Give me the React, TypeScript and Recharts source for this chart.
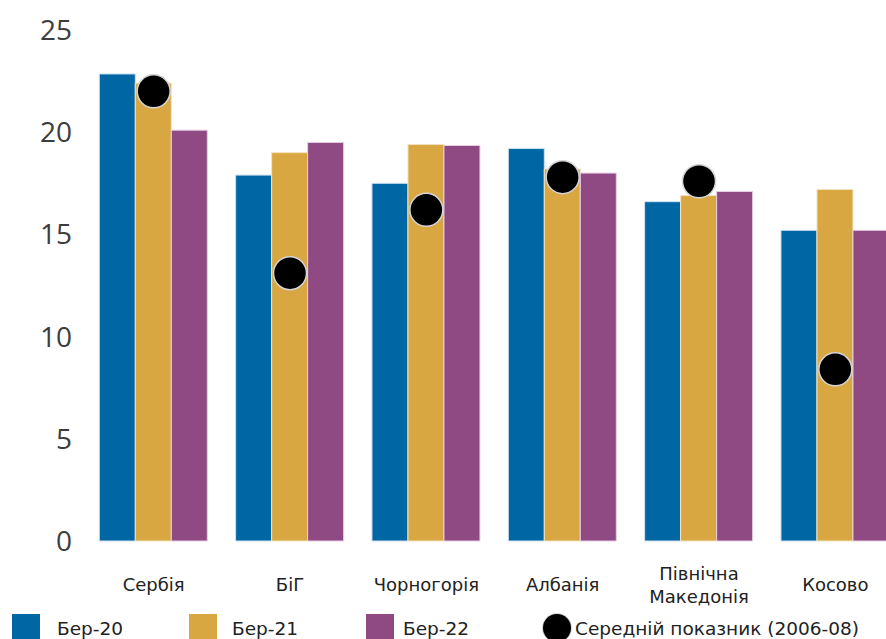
import React from 'react';
import { ComposedChart, Bar, Line, XAxis, YAxis } from 'recharts';

// Categories and series values
const categories = ['Сербія', 'БіГ', 'Чорногорія', 'Албанія', 'Північна Македонія', 'Косово'];
const mar20 = [22.85, 17.9, 17.5, 19.2, 16.6, 15.2];
const mar21 = [22.4, 19.0, 19.4, 18.2, 16.9, 17.2];
const mar22 = [20.1, 19.5, 19.35, 18.0, 17.1, 15.2];
const avg0608 = [22.0, 13.1, 16.2, 17.8, 17.6, 8.4];
const yTicks = [0, 5, 10, 15, 20, 25];

const seriesNames = ['Бер-20', 'Бер-21', 'Бер-22', 'Середній показник (2006-08)'];
const BLUE = '#0066a4';
const GOLD = '#d9a742';
const PURPLE = '#8f4983';

const data = categories.map((name, i) => ({
  name,
  mar20: mar20[i],
  mar21: mar21[i],
  mar22: mar22[i],
  avg: avg0608[i],
}));

const labelFont = '"DejaVu Sans", sans-serif';

const CategoryTick = (props: any) => {
  const { x, y, payload } = props;
  const words: string[] = String(payload.value).split(' ');
  if (words.length > 1) {
    return (
      <g>
        {words.map((w, i) => (
          <text
            key={w}
            x={x}
            y={y + 32 + i * 23}
            textAnchor="middle"
            dominantBaseline="central"
            fontFamily={labelFont}
            fontSize={18}
            fill="#222"
          >
            {w}
          </text>
        ))}
      </g>
    );
  }
  return (
    <text
      x={x}
      y={y + 43}
      textAnchor="middle"
      dominantBaseline="central"
      fontFamily={labelFont}
      fontSize={18}
      fill="#222"
    >
      {payload.value}
    </text>
  );
};

const legendItems = [
  { label: seriesNames[0], color: BLUE, left: 12, textLeft: 57, shape: 'square' },
  { label: seriesNames[1], color: GOLD, left: 189, textLeft: 232, shape: 'square' },
  { label: seriesNames[2], color: PURPLE, left: 366, textLeft: 403, shape: 'square' },
  { label: seriesNames[3], color: '#000', left: 543, textLeft: 575, shape: 'circle' },
];

export default function App() {
  return (
    <div
      style={{
        position: 'fixed',
        left: 0,
        top: 0,
        width: 886,
        height: 639,
        overflow: 'hidden',
        background: '#fff',
      }}
    >
      <ComposedChart
        width={904}
        height={639}
        data={data}
        margin={{ top: 30, right: 0.5, bottom: 0, left: 0 }}
        barCategoryGap={13.8}
        barGap={0}
      >
        <XAxis
          dataKey="name"
          interval={0}
          tickLine={false}
          axisLine={false}
          tickSize={0}
          tickMargin={0}
          height={98}
          tick={<CategoryTick />}
        />
        <YAxis
          domain={[0, 25]}
          ticks={yTicks}
          width={85.5}
          tickLine={false}
          axisLine={false}
          tickSize={0}
          tickMargin={13.5}
          tick={{ fontFamily: '"Open Sans", sans-serif', fontSize: 28, fill: '#3d3d3d' }}
        />
        <Bar dataKey="mar20" name={seriesNames[0]} fill={BLUE} stroke="#cfe0ee" strokeWidth={1} isAnimationActive={false} />
        <Bar dataKey="mar21" name={seriesNames[1]} fill={GOLD} stroke="#f3e3c0" strokeWidth={1} isAnimationActive={false} />
        <Bar dataKey="mar22" name={seriesNames[2]} fill={PURPLE} stroke="#e6cfe1" strokeWidth={1} isAnimationActive={false} />
        <Line
          dataKey="avg"
          name={seriesNames[3]}
          stroke="none"
          dot={{ r: 16.5, fill: '#000', stroke: '#d4d4d4', strokeWidth: 1.5 }}
          activeDot={false}
          isAnimationActive={false}
        />
      </ComposedChart>
      {legendItems.map((item) => (
        <React.Fragment key={item.label}>
          <div
            style={{
              position: 'absolute',
              left: item.left,
              top: 614,
              width: 28,
              height: 28,
              background: item.color,
              borderRadius: item.shape === 'circle' ? '50%' : 0,
              boxShadow: item.shape === 'circle' ? '0 0 0 1px #d4d4d4' : 'none',
            }}
          />
          <div
            style={{
              position: 'absolute',
              left: item.textLeft,
              top: 617,
              fontFamily: labelFont,
              fontSize: 18.5,
              lineHeight: '24px',
              color: '#222',
              whiteSpace: 'nowrap',
            }}
          >
            {item.label}
          </div>
        </React.Fragment>
      ))}
    </div>
  );
}
